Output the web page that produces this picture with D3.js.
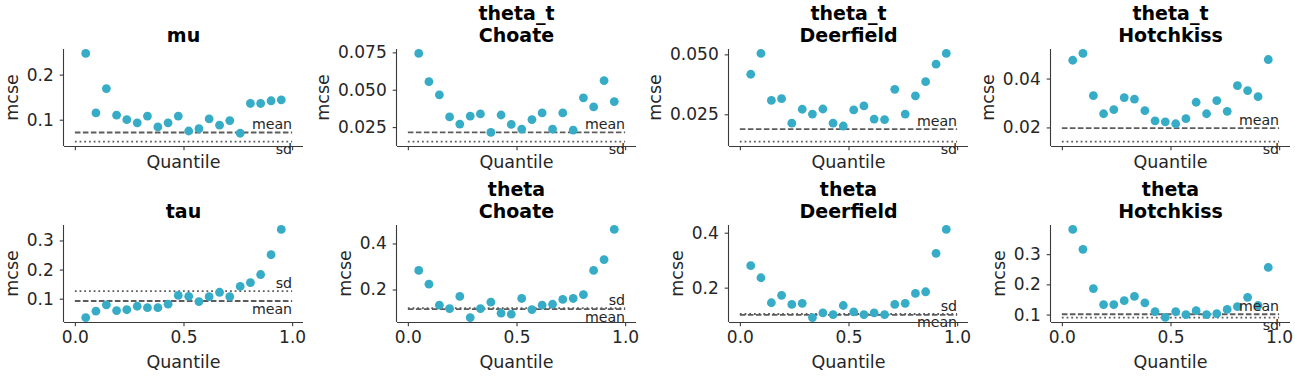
<!DOCTYPE html>
<html>
<head>
<meta charset="utf-8">
<script src="https://cdn.jsdelivr.net/npm/d3@7"></script>
<style>
  body { margin: 0; background: #fff; }
  svg { display: block; font-family: "DejaVu Sans", sans-serif; }
</style>
</head>
<body>
<div id="chart"></div>
<script>
// quantile positions shared by every panel
var quantiles = [0.05, 0.097, 0.145, 0.192, 0.239, 0.287, 0.334, 0.382, 0.429, 0.476,
                 0.524, 0.571, 0.618, 0.666, 0.713, 0.761, 0.808, 0.855, 0.903, 0.95];

var muMcse = [0.247, 0.115, 0.169, 0.110, 0.100, 0.093, 0.108, 0.084, 0.093, 0.108,
              0.075, 0.080, 0.102, 0.088, 0.098, 0.070, 0.136, 0.136, 0.142, 0.144];
var thetaTChoateMcse = [0.0743, 0.0554, 0.0466, 0.0318, 0.0270, 0.0324, 0.0338, 0.0214, 0.0331, 0.0268,
                        0.0237, 0.0300, 0.0345, 0.0237, 0.0345, 0.0230, 0.0446, 0.0385, 0.0561, 0.0421];
var thetaTDeerfieldMcse = [0.0417, 0.0504, 0.0308, 0.0315, 0.0213, 0.0271, 0.0251, 0.0272, 0.0213, 0.0201,
                           0.0268, 0.0285, 0.0230, 0.0228, 0.0354, 0.0251, 0.0327, 0.0386, 0.0459, 0.0504];
var thetaTHotchkissMcse = [0.0475, 0.0503, 0.0330, 0.0256, 0.0273, 0.0322, 0.0316, 0.0269, 0.0227, 0.0223,
                           0.0215, 0.0236, 0.0303, 0.0256, 0.0310, 0.0266, 0.0371, 0.0351, 0.0326, 0.0478];
var tauMcse = [0.035, 0.057, 0.079, 0.059, 0.062, 0.074, 0.069, 0.069, 0.081, 0.111,
               0.108, 0.090, 0.107, 0.122, 0.107, 0.142, 0.155, 0.183, 0.251, 0.338];
var thetaChoateMcse = [0.283, 0.223, 0.132, 0.117, 0.170, 0.078, 0.117, 0.145, 0.097, 0.093,
                       0.161, 0.113, 0.132, 0.136, 0.157, 0.161, 0.178, 0.283, 0.330, 0.461];
var thetaDeerfieldMcse = [0.280, 0.236, 0.145, 0.172, 0.139, 0.143, 0.091, 0.108, 0.102, 0.135,
                          0.112, 0.102, 0.108, 0.102, 0.139, 0.143, 0.179, 0.185, 0.325, 0.412];
var thetaHotchkissMcse = [0.382, 0.316, 0.186, 0.133, 0.133, 0.146, 0.160, 0.139, 0.110, 0.091,
                          0.110, 0.100, 0.113, 0.100, 0.103, 0.117, 0.126, 0.157, 0.130, 0.256];

var titles = [["mu"], ["theta_t", "Choate"], ["theta_t", "Deerfield"], ["theta_t", "Hotchkiss"],
              ["tau"], ["theta", "Choate"], ["theta", "Deerfield"], ["theta", "Hotchkiss"]];
var meanMcse = [0.0716, 0.0214, 0.0188, 0.0197, 0.092, 0.115, 0.101, 0.101];
var sdMcse = [0.0515, 0.0153, 0.0136, 0.0142, 0.126, 0.119, 0.104, 0.090];
var yTickValues = [[0.1, 0.2], [0.025, 0.05, 0.075], [0.025, 0.05], [0.02, 0.04],
                   [0.1, 0.2, 0.3], [0.2, 0.4], [0.2, 0.4], [0.1, 0.2, 0.3]];
var yTickLabels = [["0.1", "0.2"], ["0.025", "0.050", "0.075"], ["0.025", "0.050"], ["0.02", "0.04"],
                   ["0.1", "0.2", "0.3"], ["0.2", "0.4"], ["0.2", "0.4"], ["0.1", "0.2", "0.3"]];
var xTickValues = [0, 0.5, 1];
var xTickLabels = ["0.0", "0.5", "1.0"];

var seriesList = [muMcse, thetaTChoateMcse, thetaTDeerfieldMcse, thetaTHotchkissMcse,
                  tauMcse, thetaChoateMcse, thetaDeerfieldMcse, thetaHotchkissMcse];

var width = 1295, height = 376;
var colLeft = [64, 397, 729, 1051],
    rowTop = [49, 225],
    panelW = 239,
    panelH = 97;

var svg = d3.select("#chart")
    .append("svg")
    .attr("width", width)
    .attr("height", height);

var pointColor = "#36acc6",
    lineColor = "#5c5c5c",
    textColor = "#262626";

seriesList.forEach(function (values, i) {
    var row = Math.floor(i / 4), col = i % 4;
    var g = svg.append("g")
        .attr("transform", "translate(" + colLeft[col] + "," + rowTop[row] + ")");

    var x = d3.scaleLinear().domain([-0.05, 1.05]).range([0, panelW]);

    var all = values.concat([meanMcse[i], sdMcse[i]]);
    var lo = d3.min(all), hi = d3.max(all), pad = (hi - lo) * 0.05;
    var y = d3.scaleLinear().domain([lo - pad, hi + pad]).range([panelH, 0]);

    // reference lines
    g.append("line")
        .attr("x1", x(0)).attr("x2", x(1))
        .attr("y1", y(meanMcse[i])).attr("y2", y(meanMcse[i]))
        .attr("stroke", lineColor)
        .attr("stroke-width", 1.8)
        .attr("stroke-dasharray", "5.6,2.4");
    g.append("line")
        .attr("x1", x(0)).attr("x2", x(1))
        .attr("y1", y(sdMcse[i])).attr("y2", y(sdMcse[i]))
        .attr("stroke", lineColor)
        .attr("stroke-width", 1.8)
        .attr("stroke-dasharray", "1.8,2.9");

    g.selectAll("circle")
        .data(values)
        .enter()
        .append("circle")
        .attr("cx", function (d, j) { return x(quantiles[j]); })
        .attr("cy", function (d) { return y(d); })
        .attr("r", 4.4)
        .attr("fill", pointColor);

    var meanAbove = meanMcse[i] > sdMcse[i];
    g.append("text")
        .attr("x", x(1))
        .attr("y", y(meanMcse[i]) + (meanAbove ? -3.5 : 12.5))
        .attr("text-anchor", "end")
        .attr("fill", textColor)
        .style("font-size", "14.2px")
        .text("mean");
    g.append("text")
        .attr("x", x(1))
        .attr("y", y(sdMcse[i]) + (meanAbove ? 12.5 : -3.5))
        .attr("text-anchor", "end")
        .attr("fill", textColor)
        .style("font-size", "14.2px")
        .text("sd");

    // axes
    var xAxis = g.append("g")
        .attr("transform", "translate(0," + panelH + ")")
        .call(d3.axisBottom(x).tickValues(xTickValues).tickSize(4.3).tickPadding(4.5)
            .tickFormat(function (d, j) { return row === 1 ? xTickLabels[j] : ""; }));
    var yAxis = g.append("g")
        .call(d3.axisLeft(y).tickValues(yTickValues[i]).tickSize(4.3).tickPadding(6)
            .tickFormat(function (d, j) { return yTickLabels[i][j]; }));

    [xAxis, yAxis].forEach(function (ax) {
        ax.select(".domain").attr("stroke", "#3a3a3a").attr("stroke-width", 1.1);
        ax.selectAll(".tick line").attr("stroke", "#3a3a3a").attr("stroke-width", 1.1);
        ax.selectAll(".tick text")
            .attr("fill", textColor)
            .style("font-size", "17px")
            .style("font-family", "DejaVu Sans");
    });
    xAxis.select(".domain").attr("d", "M0,0.5H" + panelW);
    yAxis.select(".domain").attr("d", "M-0.5,0V" + panelH);

    var yBox = yAxis.node().getBBox();
    g.append("text")
        .attr("transform", "translate(" + (yBox.x - 9) + "," + (panelH / 2) + ") rotate(-90)")
        .attr("text-anchor", "middle")
        .attr("fill", textColor)
        .style("font-size", "17.5px")
        .text("mcse");

    g.append("text")
        .attr("x", panelW / 2)
        .attr("y", row === 1 ? panelH + 46 : panelH + 21.5)
        .attr("text-anchor", "middle")
        .attr("fill", textColor)
        .style("font-size", "17.5px")
        .text("Quantile");

    var t = titles[i];
    t.forEach(function (line, k) {
        g.append("text")
            .attr("x", panelW / 2)
            .attr("y", -7 - (t.length - 1 - k) * 22.5)
            .attr("text-anchor", "middle")
            .attr("fill", "#000")
            .style("font-size", "19px")
            .style("font-weight", "bold")
            .text(line);
    });
});
</script>
</body>
</html>
